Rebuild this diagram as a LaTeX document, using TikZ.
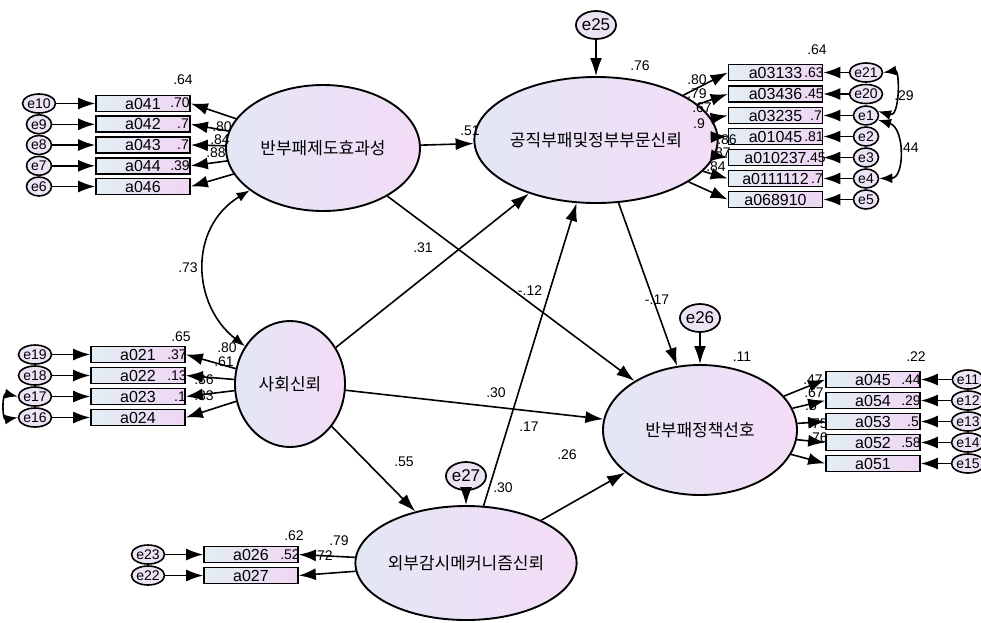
\documentclass[tikz,border=0pt]{standalone}
\usepackage{fontspec}
\setmainfont{Liberation Sans}
\newfontfamily\kr{Noto Sans CJK KR}
\usetikzlibrary{shapes.geometric,arrows.meta}
\definecolor{latL}{RGB}{226,231,245}
\definecolor{latR}{RGB}{244,220,246}
\definecolor{boxL}{RGB}{226,238,243}
\definecolor{boxR}{RGB}{240,214,244}
\definecolor{errF}{RGB}{236,228,244}
\begin{document}
\begin{tikzpicture}[x=1pt,y=-1pt,
 lat/.style={ellipse,draw,line width=1.9pt,left color=latL,right color=latR,inner sep=0pt,font=\kr\fontsize{17}{19}\selectfont},
 obs/.style={rectangle,draw,line width=1.7pt,minimum width=94pt,minimum height=16pt,inner sep=0pt,left color=boxL,right color=boxR,font=\fontsize{16}{16}\selectfont},
 errs/.style={ellipse,draw,line width=1.6pt,fill=errF,minimum width=25pt,minimum height=19pt,inner sep=0pt,font=\fontsize{14}{14}\selectfont},
 errb/.style={ellipse,draw,line width=1.7pt,fill=errF,minimum width=38pt,minimum height=28pt,inner sep=0pt,font=\fontsize{17}{17}\selectfont},
 arr/.style={line width=1.6pt,-{Latex[length=18pt,width=12pt]}},
 iarr/.style={line width=1.6pt,-{Latex[length=17pt,width=12pt]}},
 cov/.style={line width=1.6pt,{Latex[length=13pt,width=10pt]}-{Latex[length=13pt,width=10pt]}},
 num/.style={font=\fontsize{14}{14}\selectfont,inner sep=0pt}
]
\useasboundingbox (0,0) rectangle (981,622);

% latent variables
\node[lat,minimum width=194pt,minimum height=126pt] (L1) at (323,148) {반부패제도효과성};
\node[lat,minimum width=190pt,minimum height=126pt] (L2) at (596,140) {공직부패및정부부문신뢰};
\node[lat,minimum width=110pt,minimum height=126pt] (L3) at (290,384) {사회신뢰};
\node[lat,minimum width=194pt,minimum height=130pt] (L4) at (700,430) {반부패정책선호};
\node[lat,minimum width=190pt,minimum height=114pt] (L5) at (466,563) {외부감시메커니즘신뢰};

% disturbances
\node[errb] (e25) at (596,25) {e25};
\node[errb] (e26) at (700,318) {e26};
\node[errb] (e27) at (466,476) {e27};

% indicators
\foreach \n/\e/\y in {a041/e10/103.5,a042/e9/124.3,a043/e8/145,a044/e7/165.8,a046/e6/186.5}{
  \node[obs] (\n) at (143,\y) {\n};
  \node[errs] (\e) at (39,\y) {\e};}
\foreach \n/\e/\y in {a03133/e21/72.5,a03436/e20/94,a03235/e1/115.5,a01045/e2/136.5,a010237/e3/157.5,a0111112/e4/178.5,a068910/e5/199.5}{
  \node[obs] (\n) at (775.5,\y) {\n};
  \node[errs] (\e) at (866,\y) {\e};}
\foreach \n/\e/\y in {a021/e19/354.5,a022/e18/375.5,a023/e17/396.5,a024/e16/417.5}{
  \node[obs] (\n) at (138,\y) {\n};
  \node[errs] (\e) at (35,\y) {\e};}
\foreach \n/\e/\y in {a045/e11/379.5,a054/e12/400.5,a053/e13/421.5,a052/e14/442.5,a051/e15/463.5}{
  \node[obs] (\n) at (873,\y) {\n};
  \node[errs] (\e) at (968,\y) {\e};}
\foreach \n/\e/\y in {a026/e23/554.5,a027/e22/575.5}{
  \node[obs] (\n) at (251,\y) {\n};
  \node[errs] (\e) at (148,\y) {\e};}

% structural labels
\node[num] (t1) at (470,131) {.51};
\node[num] (t2) at (530,291) {-.12};
\node[num] (t3) at (188,268) {.73};
\node[num] (t4) at (423,248) {.31};
\node[num] (t5) at (496,393) {.30};
\node[num] (t6) at (404,462) {.55};
\node[num] (t7) at (529,427) {.17};
\node[num] (t8) at (503,488) {.30};
\node[num] (t9) at (567,455) {.26};
\node[num] (t10) at (657,300) {-.17};
\node[num] (t11) at (640,66) {.76};
\node[num] (t12) at (742,357) {.11};

% top-left labels
\node[num] (u1) at (183,80) {.64};
\node[num] (u2) at (222,127) {.80};
\node[num] (u3) at (220,140) {.84};
\node[num] (u4) at (216,153) {.88};
\node[num] (u5) at (180,103) {.70};
\node[num] (u6) at (183,124) {.7};
\node[num] (u7) at (183,145) {.7};
\node[num] (u8) at (180,166) {.39};

% top-right labels
\node[num] (v1) at (817,50) {.64};
\node[num] (v2) at (697,80) {.80};
\node[num] (v3) at (697,94) {.79};
\node[num] (v4) at (702,108) {.67};
\node[num] (v5) at (699,124) {.9};
\node[num] (v6) at (727,140) {.86};
\node[num] (v7) at (721,153) {.87};
\node[num] (v8) at (716,167) {.84};
\node[num] (v9) at (814,72.5) {.63};
\node[num] (v10) at (814,94) {.45};
\node[num] (v11) at (816,115.5) {.7};
\node[num] (v12) at (814,136.5) {.81};
\node[num] (v13) at (816,157.5) {.45};
\node[num] (v14) at (817,178.5) {.7};
\node[num] (v15) at (904,96) {.29};
\node[num] (v16) at (909,148) {.44};

% middle-left labels
\node[num] (w1) at (181,337) {.65};
\node[num] (w2) at (227,348) {.80};
\node[num] (w3) at (224,362) {.61};
\node[num] (w4) at (204,380) {.36};
\node[num] (w5) at (204,396) {.33};
\node[num] (w6) at (177,354.5) {.37};
\node[num] (w7) at (177,375.5) {.13};
\node[num] (w8) at (180,396.5) {.1};

% right labels
\node[num] (r1) at (916,357) {.22};
\node[num] (r2) at (813,380) {.47};
\node[num] (r3) at (814,393) {.67};
\node[num] (r4) at (811,406) {.5};
\node[num] (r5) at (818,424) {.75};
\node[num] (r6) at (818,438) {.76};
\node[num] (r7) at (911,379.5) {.44};
\node[num] (r8) at (911,400.5) {.29};
\node[num] (r9) at (913,421.5) {.5};
\node[num] (r10) at (911,442.5) {.58};

% bottom labels
\node[num] (s1) at (294,536) {.62};
\node[num] (s2) at (339,541) {.79};
\node[num] (s3) at (323,556) {.72};
\node[num] (s4) at (290,554.5) {.52};

% measurement arrows
\foreach \n/\e in {a041/e10,a042/e9,a043/e8,a044/e7,a046/e6}{
  \draw[iarr] (\e) -- (\n); \draw[iarr] (L1) -- (\n.east);}
\foreach \n/\e in {a03133/e21,a03436/e20,a03235/e1,a01045/e2,a010237/e3,a0111112/e4,a068910/e5}{
  \draw[iarr] (\e) -- (\n); \draw[iarr] (L2) -- (\n.west);}
\foreach \n/\e in {a021/e19,a022/e18,a023/e17,a024/e16}{
  \draw[iarr] (\e) -- (\n); \draw[iarr] (L3) -- (\n.east);}
\foreach \n/\e in {a045/e11,a054/e12,a053/e13,a052/e14,a051/e15}{
  \draw[iarr] (\e) -- (\n); \draw[iarr] (L4) -- (\n.west);}
\foreach \n/\e in {a026/e23,a027/e22}{
  \draw[iarr] (\e) -- (\n); \draw[iarr] (L5) -- (\n.east);}

% structural arrows
\draw[arr] (L1) -- (L2);
\draw[arr] (L1) -- (L4);
\draw[arr] (L3) -- (L2);
\draw[arr] (L3) -- (L4);
\draw[arr] (L3) -- (L5);
\draw[arr] (L5) -- (L2);
\draw[arr] (L5) -- (L4);
\draw[arr] (L2) -- (L4);
\draw[arr] (e25) -- (L2);
\draw[arr] (e26) -- (L4);
\draw[arr] (e27) -- (L5);

% covariances
\draw[cov] (L1.210) .. controls (188,228) and (192,305) .. (L3.140);
\draw[cov] (e21.east) .. controls (900,70) and (900,118) .. (e1.20);
\draw[cov] (e1.-20) .. controls (905,128) and (905,178) .. (e4.east);
\draw[cov] (e17.west) .. controls (2,393) and (2,420) .. (e16.west);
\end{tikzpicture}
\end{document}
